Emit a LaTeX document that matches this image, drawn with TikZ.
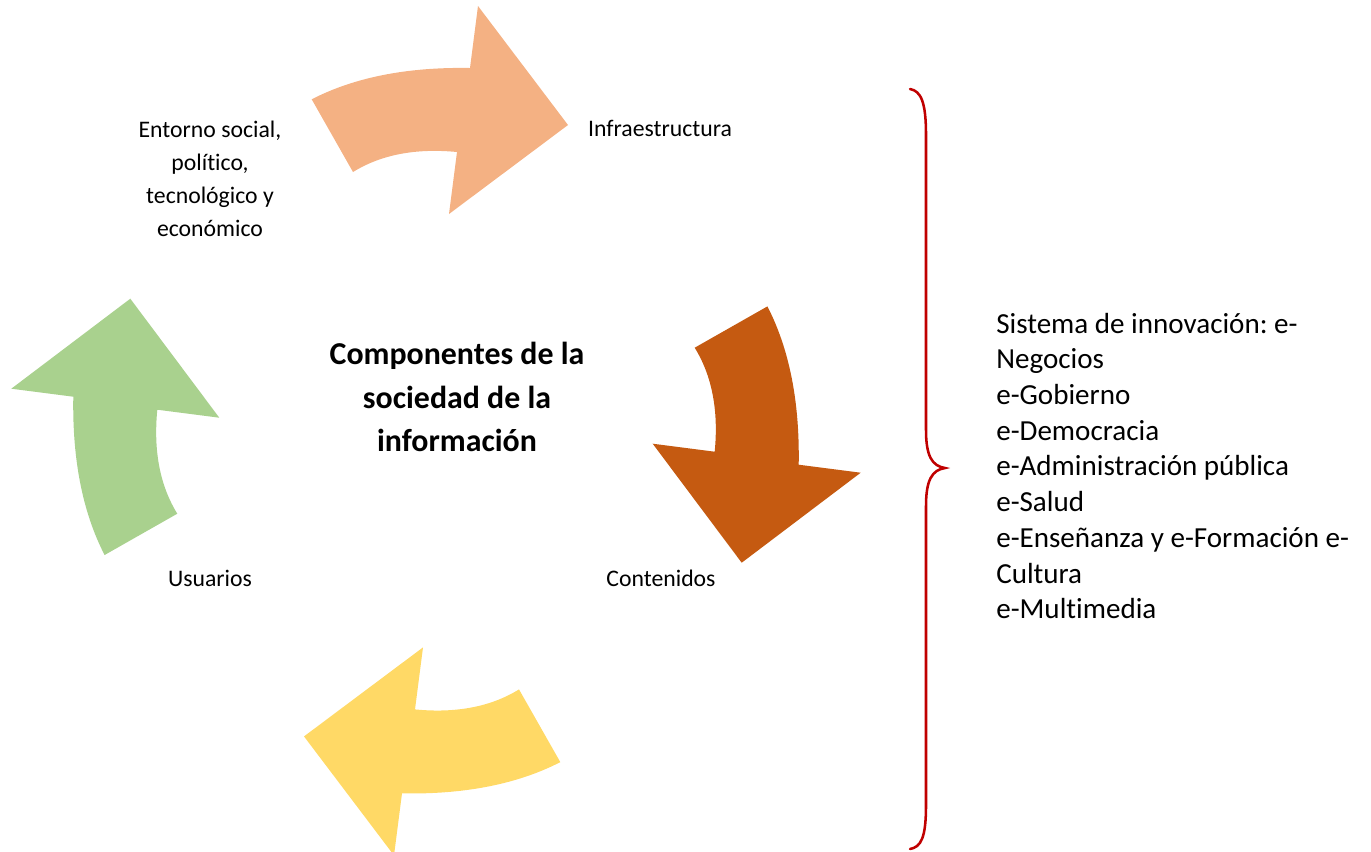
\documentclass[tikz,border=0pt]{standalone}
\usepackage{fontspec}
\setmainfont{Carlito}[Ligatures={NoCommon}]
\frenchspacing
\definecolor{arrOrange}{HTML}{F4B183}
\definecolor{arrBrown}{HTML}{C55A11}
\definecolor{arrYellow}{HTML}{FFD966}
\definecolor{arrGreen}{HTML}{A9D18E}
\definecolor{braceRed}{HTML}{C00000}
\newcommand{\circarrowpath}{(311.7,99.3) .. controls (354.4,77.3) and (407.2,66.9) .. (470,68)
  -- (478,6) -- (568,125) -- (449,214) -- (457,152)
  .. controls (415.7,148) and (381,154.7) .. (353,172) -- cycle}
\begin{document}
\begin{tikzpicture}[x=0.75pt,y=-0.75pt,
  lbl/.style={font=\fontsize{17.8}{24.75}\selectfont, align=center, inner sep=0pt},
  ttl/.style={font=\fontsize{23.9}{32.6}\selectfont\bfseries, align=center, inner sep=0pt},
  lst/.style={font=\fontsize{21.8}{26.8}\selectfont, align=left, inner sep=0pt, anchor=west},
  bracestyle/.style={draw=braceRed, line width=1.9pt, line cap=round}]
\useasboundingbox (0,0) rectangle (1371,851);
\coordinate (c) at (436,430.7);
% circular arrows
\fill[arrOrange] \circarrowpath;
\fill[arrBrown, rotate around={-90:(c)}] \circarrowpath;
\fill[arrYellow, rotate around={-180:(c)}] \circarrowpath;
\fill[arrGreen, rotate around={90:(c)}] \circarrowpath;
% labels
\node[lbl] (entorno) at (210,179) {Entorno social,\\político,\\tecnológico y\\económico};
\node[lbl] (infra) at (660,128) {Infraestructura};
\node[lbl] (cont) at (661,578) {Contenidos};
\node[lbl] (usu) at (210,578) {Usuarios};
\node[ttl] (title) at (457,397) {Componentes de la\\sociedad de la\\información};
\node[lst] (lista) at (996,466) {Sistema de innovación: e-\\Negocios\\e-Gobierno\\e-Democracia\\e-Administración pública\\e-Salud\\e-Enseñanza y e-Formación e-\\Cultura\\e-Multimedia};
% brace
\draw[bracestyle] (910,89) .. controls (921,91) and (926,102) .. (926,135)
  -- (926,430) .. controls (926,456) and (932,466) .. (945,468)
  .. controls (932,470) and (926,480) .. (926,506)
  -- (926,805) .. controls (926,838) and (921,847) .. (910,849);
\end{tikzpicture}
\end{document}
